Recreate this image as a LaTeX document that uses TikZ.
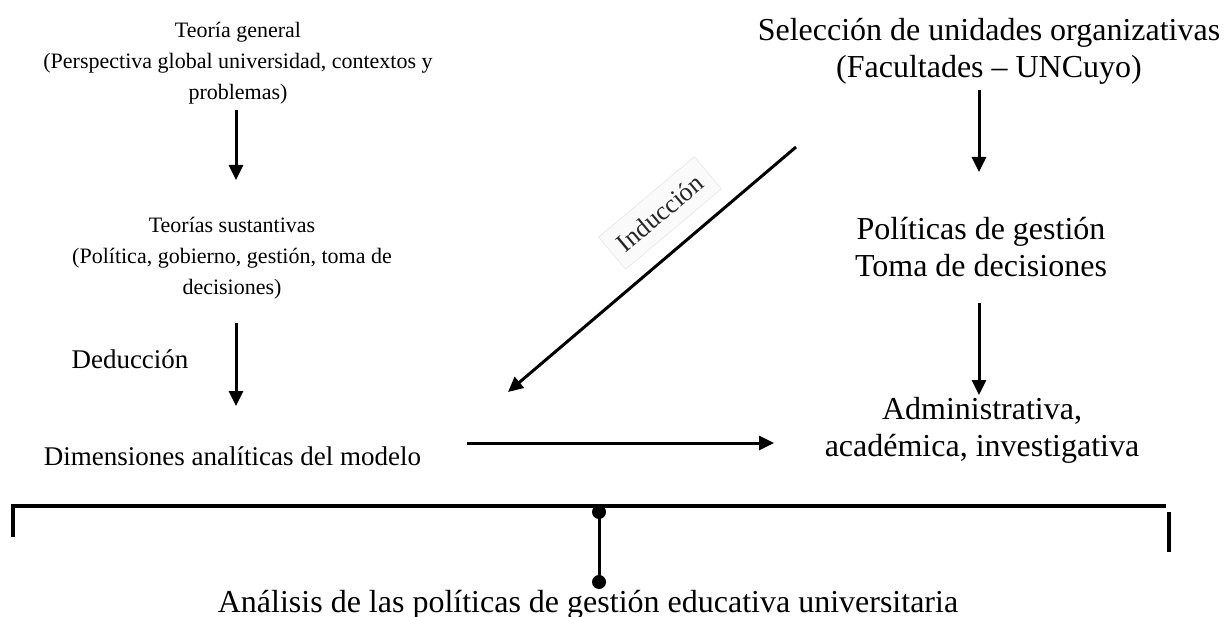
\documentclass[tikz,border=0pt]{standalone}
\usepackage{fontspec}
\setmainfont{Liberation Serif}
\usetikzlibrary{arrows.meta}
\begin{document}
\begin{tikzpicture}[x=1pt,y=-1pt,
  smalltxt/.style={font=\fontsize{22}{31}\selectfont, align=center, inner sep=0pt},
  midtxt/.style={font=\fontsize{27}{33}\selectfont, align=center, inner sep=0pt},
  bigtxt/.style={font=\fontsize{32}{37}\selectfont, align=center, inner sep=0pt},
  arr/.style={line width=3pt, -{Triangle[width=14pt,length=15pt]}},
  brk/.style={line width=3.5pt},
  dotend/.style={circle, fill=black, inner sep=0pt, minimum size=14pt},
  indbox/.style={draw=black!10, fill=black!2, line width=0.6pt, font=\fontsize{26}{28}\selectfont, text=black!85, inner sep=0pt, minimum width=125pt, minimum height=42pt}
]
\useasboundingbox (0,0) rectangle (1225,617);
% left column
\node[smalltxt] (tg) at (238,63) {Teoría general\\(Perspectiva global universidad, contextos y\\problemas)};
\node[smalltxt] (ts) at (232,258) {Teorías sustantivas\\(Política, gobierno, gestión, toma de\\decisiones)};
\node[midtxt, anchor=base] (ded) at (130,368) {Deducción};
\node[midtxt, anchor=base] (dim) at (232.5,465) {Dimensiones analíticas del modelo};
% right column
\node[bigtxt] (sel) at (989,51) {Selección de unidades organizativas\\(Facultades – UNCuyo)};
\node[bigtxt] (pol) at (981,247) {Políticas de gestión\\Toma de decisiones};
\node[bigtxt] (adm) at (982,430) {Administrativa,\\académica, investigativa};
% bottom
\node[bigtxt, anchor=base] (ana) at (588,612) {Análisis de las políticas de gestión educativa universitaria};
% induction label
\node[indbox, rotate=40] (ind) at (660,213) {Inducción};
% coordinates
\coordinate (a1s) at (236,110);
\coordinate (a1e) at (236,180);
\coordinate (a2s) at (236,323);
\coordinate (a2e) at (236,406);
\coordinate (b1s) at (979,90);
\coordinate (b1e) at (979,172);
\coordinate (b2s) at (979,303);
\coordinate (b2e) at (979,395);
\coordinate (ds) at (796,147);
\coordinate (de) at (508,392);
\coordinate (hs) at (467,443);
\coordinate (he) at (774,443);
\coordinate (bl) at (13,537);
\coordinate (blt) at (13,506);
\coordinate (brt) at (1166,506);
\coordinate (rt1) at (1169,512);
\coordinate (rt2) at (1169,552);
\coordinate (ctop) at (599,512);
\coordinate (cbot) at (599,582);
% arrows
\draw[arr] (a1s) -- (a1e);
\draw[arr] (a2s) -- (a2e);
\draw[arr] (b1s) -- (b1e);
\draw[arr] (b2s) -- (b2e);
\draw[arr] (ds) -- (de);
\draw[arr] (hs) -- (he);
% bracket
\draw[brk] (bl) -- (blt) -- (brt);
\draw[brk] (rt1) -- (rt2);
\draw[line width=3pt] (ctop) -- (cbot);
\node[dotend] (d1) at (ctop) {};
\node[dotend] (d2) at (cbot) {};
\end{tikzpicture}
\end{document}
